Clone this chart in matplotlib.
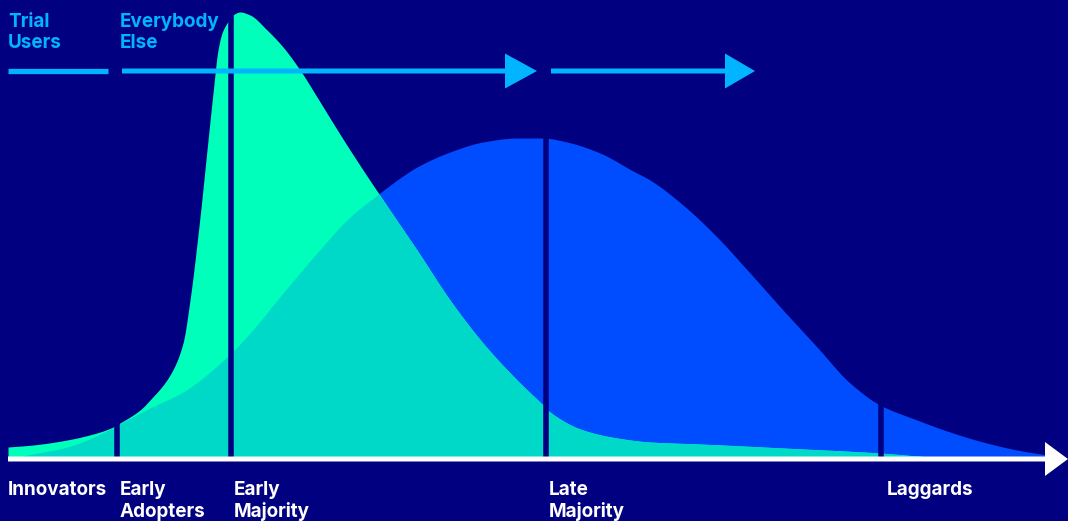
import numpy as np
import matplotlib.pyplot as plt

# adoption curves (x = time, y = height above the axis)
green_x = [8, 33, 67, 100, 113, 120, 140, 150, 170, 183, 190, 200, 207, 213, 218, 222, 227,
           233, 240, 250, 267, 283, 300, 317, 333, 350, 367, 400, 417, 450, 483, 517,
           543, 550, 583, 617, 650, 700, 783, 880, 933, 1000]
green_y = [12, 14, 19, 27, 32, 36, 49, 59, 84, 116, 159, 242, 309, 366, 409, 426, 436,
           444, 447, 444, 429, 412, 389, 362, 336, 309, 283, 234, 209, 159, 116, 79,
           54, 47, 29, 21, 17, 15, 11, 6, 2, 0]

blue_x = [8, 33, 67, 113, 120, 150, 183, 227, 250, 283, 317, 350, 380, 400, 417, 450, 483,
          517, 543, 567, 600, 633, 650, 683, 717, 750, 783, 817, 850, 880, 917,
          950, 983, 1017, 1047]
blue_y = [0, 5, 12, 31, 35, 51, 67, 102, 126, 166, 206, 242, 266, 281, 292, 307, 317,
          321, 321, 317, 306, 288, 279, 254, 222, 186, 149, 112, 76, 54, 39,
          27, 17, 9, 4]

divider_x = [117, 231, 546, 881]

stage_labels = [("Innovators", 8), ("Early\nAdopters", 120), ("Early\nMajority", 234),
                ("Late\nMajority", 549), ("Laggards", 887)]
group_labels = [("Trial\nUsers", 8), ("Everybody\nElse", 120)]

navy = "#000080"
green = "#00FFBA"
teal = "#00D9C8"
blue = "#004DFF"
cyan = "#00B4FF"


def smooth(xs, ys, xq):
    # monotone cubic (pchip) through the read points, just for drawing
    xs = np.asarray(xs, float)
    ys = np.asarray(ys, float)
    h = np.diff(xs)
    d = np.diff(ys) / h
    m = np.zeros_like(ys)
    m[0], m[-1] = d[0], d[-1]
    for k in range(1, len(xs) - 1):
        if d[k - 1] * d[k] > 0:
            w1 = 2 * h[k] + h[k - 1]
            w2 = h[k] + 2 * h[k - 1]
            m[k] = (w1 + w2) / (w1 / d[k - 1] + w2 / d[k])
    i = np.clip(np.searchsorted(xs, xq) - 1, 0, len(xs) - 2)
    t = (xq - xs[i]) / h[i]
    h00 = 2 * t**3 - 3 * t**2 + 1
    h10 = t**3 - 2 * t**2 + t
    h01 = -2 * t**3 + 3 * t**2
    h11 = t**3 - t**2
    out = h00 * ys[i] + h10 * h[i] * m[i] + h01 * ys[i + 1] + h11 * h[i] * m[i + 1]
    out[xq > xs[-1]] = 0
    return np.maximum(out, 0)


fig = plt.figure(figsize=(10.68, 5.21), dpi=100, facecolor=navy)
ax = fig.add_axes([0, 0, 1, 1])
ax.set_facecolor(navy)
ax.set_xlim(0, 1068)
ax.set_ylim(-62, 459)
ax.axis("off")

grid = np.linspace(8, 1047, 3000)
g = smooth(green_x, green_y, grid)
b = smooth(blue_x, blue_y, grid)

ax.fill_between(grid, 0, b, color=blue, lw=0, zorder=1)
ax.fill_between(grid, 0, g, color=green, lw=0, zorder=2)
ax.fill_between(grid, 0, np.minimum(g, b), color=teal, lw=0, zorder=3)

ax.vlines(divider_x, 0, 455, color=navy, lw=4, zorder=4)

# x axis with arrow head
ax.arrow(8, 0, 1060, 0, width=5, head_width=34, head_length=23,
         length_includes_head=True, color="white", lw=0, zorder=5)

# top arrows
ax.plot([8, 108], [388, 388], color=cyan, lw=3.8, solid_capstyle="butt", zorder=6)
ax.arrow(122, 388, 415, 0, width=5, head_width=35, head_length=32,
         length_includes_head=True, color=cyan, lw=0, zorder=6)
ax.arrow(551, 388, 204, 0, width=5, head_width=35, head_length=30,
         length_includes_head=True, color=cyan, lw=0, zorder=6)

font = dict(family=["Inter", "DejaVu Sans"], fontweight="bold", fontsize=13.6)
for text, x in group_labels:
    for i, line in enumerate(text.split("\n")):
        ax.text(x, 432 - 21 * i, line, color=cyan, va="baseline", ha="left", **font)
for text, x in stage_labels:
    for i, line in enumerate(text.split("\n")):
        ax.text(x, -36 - 22 * i, line, color="white", va="baseline", ha="left", **font)

fig.savefig("out.png", dpi=100, facecolor=navy)
